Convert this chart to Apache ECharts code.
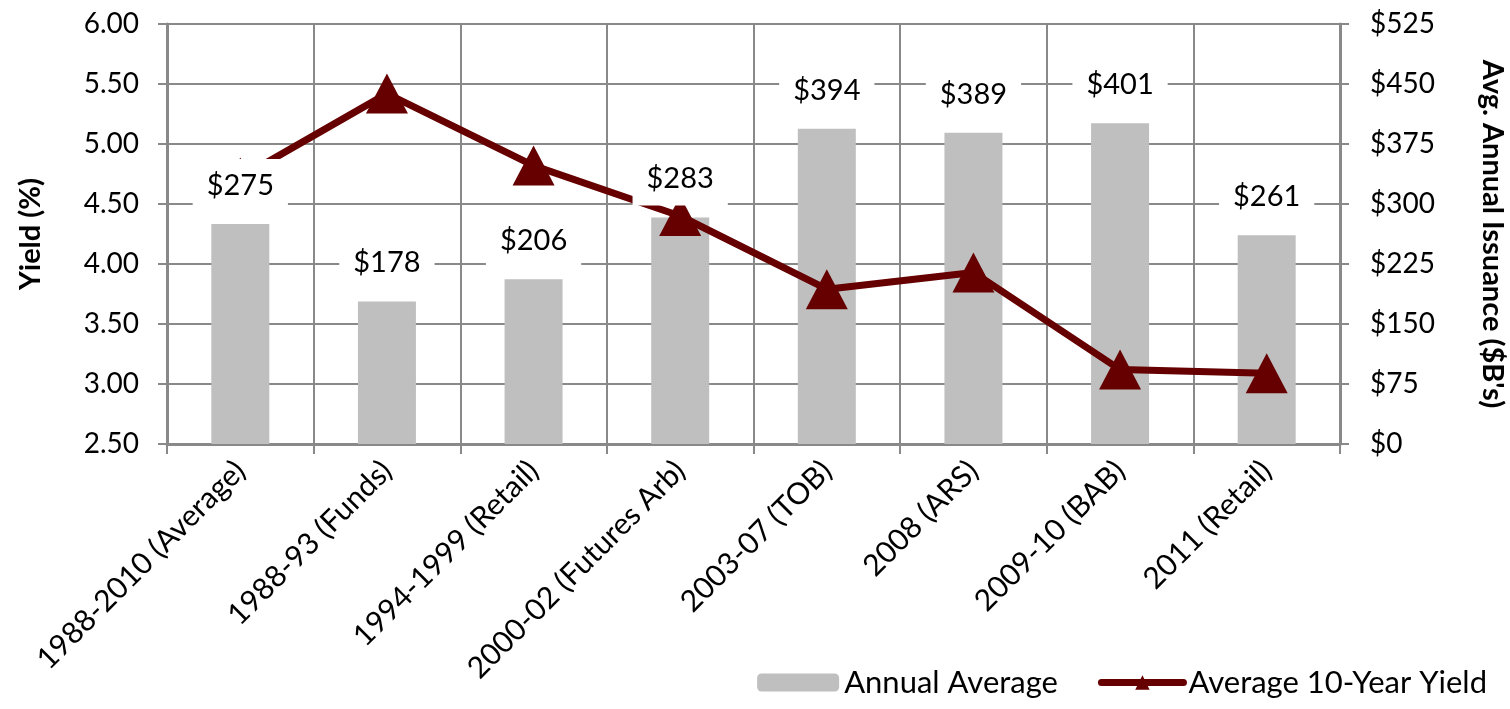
<!DOCTYPE html>
<html>
<head>
<meta charset="utf-8">
<script src="https://cdn.jsdelivr.net/npm/echarts@6/dist/echarts.min.js"></script>
<style>
  html, body { margin: 0; padding: 0; background: #fff; }
  #main { width: 1510px; height: 709px; }
</style>
</head>
<body>
<div id="main"></div>
<script>
  // categories and values
  const categories = ['1988-2010 (Average)', '1988-93 (Funds)', '1994-1999 (Retail)', '2000-02 (Futures Arb)',
    '2003-07 (TOB)', '2008 (ARS)', '2009-10 (BAB)', '2011 (Retail)'];
  const issuance = [275, 178, 206, 283, 394, 389, 401, 261];
  const yields = [4.72, 5.42, 4.82, 4.40, 3.79, 3.93, 3.12, 3.09];

  const font = 'Lato, "Open Sans", sans-serif';
  const gridGray = '#898989';

  let chart = echarts.init(document.getElementById('main'));
  chart.setOption({
    animation: false,
    textStyle: { fontFamily: font },
    grid: { left: 167, right: 170, top: 24, bottom: 265, outerBoundsMode: 'none' },
    legend: {
      right: 18,
      bottom: 6,
      itemWidth: 82,
      itemHeight: 18,
      itemGap: 40,
      textStyle: { fontSize: 31, color: '#000', fontFamily: font },
      data: [
        { name: 'Annual Average' },
        { name: 'Average 10-Year Yield', lineStyle: { width: 7, cap: 'round' } }
      ]
    },
    xAxis: {
      type: 'category',
      data: categories,
      axisLine: { lineStyle: { color: gridGray, width: 3 } },
      axisTick: { show: true, length: 10, lineStyle: { color: gridGray, width: 2 } },
      splitLine: { show: true, interval: 0, lineStyle: { color: gridGray, width: 2 } },
      axisLabel: { rotate: 45, interval: 0, fontSize: 30, color: '#000', margin: 22 }
    },
    yAxis: [
      {
        type: 'value',
        min: 2.5, max: 6, interval: 0.5,
        name: 'Yield (%)',
        nameLocation: 'middle',
        nameGap: 122,
        nameTextStyle: { fontSize: 29, fontWeight: 'bold', color: '#000' },
        axisLine: { show: true, lineStyle: { color: gridGray, width: 3 } },
        axisTick: { show: true, length: 9, lineStyle: { color: gridGray, width: 2 } },
        splitLine: { show: true, lineStyle: { color: gridGray, width: 2 } },
        axisLabel: { fontSize: 28, color: '#000', margin: 28, formatter: v => v.toFixed(2) }
      },
      {
        type: 'value',
        min: 0, max: 525, interval: 75,
        name: "Avg. Annual Issuance ($B's)",
        nameLocation: 'middle',
        nameRotate: -90,
        nameGap: 138,
        nameTextStyle: { fontSize: 29, fontWeight: 'bold', color: '#000' },
        axisLine: { show: true, lineStyle: { color: gridGray, width: 3 } },
        axisTick: { show: true, length: 9, lineStyle: { color: gridGray, width: 2 } },
        splitLine: { show: false },
        axisLabel: { fontSize: 28, color: '#000', margin: 30, formatter: v => '$' + v }
      }
    ],
    series: [
      {
        name: 'Annual Average',
        type: 'bar',
        yAxisIndex: 1,
        data: issuance,
        barWidth: 58,
        itemStyle: { color: '#bfbfbf' },
        z: 2
      },
      {
        name: 'Average 10-Year Yield',
        type: 'line',
        yAxisIndex: 0,
        data: yields,
        symbol: 'triangle',
        symbolSize: [42, 40],
        lineStyle: { color: '#660000', width: 7 },
        itemStyle: { color: '#660000' },
        z: 3
      },
      {
        // transparent copy of the bars that only carries the value labels on top
        name: 'labels',
        type: 'bar',
        yAxisIndex: 1,
        data: issuance,
        barWidth: 58,
        barGap: '-100%',
        itemStyle: { color: 'rgba(0,0,0,0)' },
        label: {
          show: true,
          position: 'top',
          distance: 12,
          fontSize: 29,
          color: '#000',
          backgroundColor: '#fff',
          padding: [12, 14],
          formatter: p => '$' + p.value
        },
        silent: true,
        z: 5
      }
    ]
  });
</script>
</body>
</html>
